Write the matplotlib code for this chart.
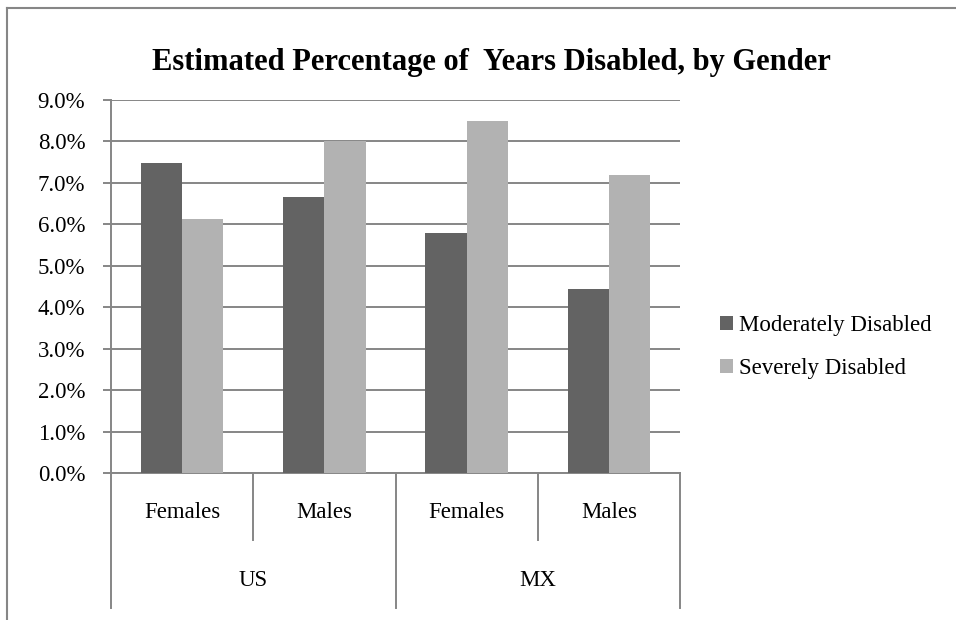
import numpy as np
import matplotlib.pyplot as plt
from matplotlib.lines import Line2D
from matplotlib.ticker import FuncFormatter
import matplotlib.transforms as mtransforms

plt.rcParams['font.family'] = ['Liberation Serif', 'DejaVu Serif']

# -----------------------------
# Data
# -----------------------------
countries = ['US', 'MX']
genders = ['Females', 'Males']
series_names = ['Moderately Disabled', 'Severely Disabled']
moderate = [7.48, 6.66, 5.79, 4.44]
severe = [6.13, 8.00, 8.50, 7.19]
yticks = [0, 1, 2, 3, 4, 5, 6, 7, 8, 9]

dark = '#636363'
light = '#b2b2b2'
axis_grey = '#868686'
fs = 16.5

# -----------------------------
# Figure
# -----------------------------
fig = plt.figure(figsize=(9.56, 6.2), dpi=100)
ax = fig.add_axes([111/956, 1 - 473/620, 569/956, 373/620])

n_cat = len(countries) * len(genders)
x = np.arange(n_cat)
w = 0.29
ax.bar(x - w/2, moderate, width=w, color=dark, label=series_names[0], zorder=3)
ax.bar(x + w/2, severe, width=w, color=light, label=series_names[1], zorder=3)

ax.set_xlim(-0.5, n_cat - 0.5)
ax.set_ylim(0, 9)
ax.set_yticks(yticks)
ax.yaxis.set_major_formatter(FuncFormatter(lambda v, p: f'{v:.1f}%'))
ax.tick_params(axis='y', length=6, width=1.4, color=axis_grey, pad=12.5,
               labelsize=fs)
ax.set_xticks([])
ax.grid(axis='y', color=axis_grey, linewidth=1.4, zorder=0)

for s in ['top', 'right']:
    ax.spines[s].set_visible(False)
for s in ['left', 'bottom']:
    ax.spines[s].set_color(axis_grey)
    ax.spines[s].set_linewidth(1.4)

# -----------------------------
# Two-level category axis
# -----------------------------
trans = mtransforms.blended_transform_factory(ax.transData, ax.transAxes)
h_ax = 373.0
short_end = -(540 - 473) / h_ax
long_end = -(608 - 473) / h_ax

for b in np.arange(-0.5, n_cat, 1.0):
    is_outer = int(round(b + 0.5)) % len(genders) == 0
    y_end = long_end if is_outer else short_end
    ax.add_line(Line2D([b, b], [0, y_end], transform=trans, color=axis_grey,
                       linewidth=1.4, clip_on=False))

for i in range(n_cat):
    ax.text(x[i], -(513 - 473) / h_ax, genders[i % len(genders)],
            transform=trans, ha='center', va='center', fontsize=fs)

for j, c in enumerate(countries):
    cx = j * len(genders) + (len(genders) - 1) / 2
    ax.text(cx, -(580 - 473) / h_ax, c, transform=trans,
            ha='center', va='center', fontsize=fs)

# -----------------------------
# Title, legend, chart border
# -----------------------------
fig.text(491/956, 1 - 70/620, 'Estimated Percentage of  Years Disabled, by Gender',
         ha='center', va='baseline', fontsize=22, fontweight='bold')

fig.legend(loc='center left', bbox_to_anchor=(720/956, 1 - 347/620),
           frameon=False, fontsize=fs, handlelength=0.55, handleheight=0.55,
           handletextpad=0.3, labelspacing=0.95, borderaxespad=0,
           borderpad=0)

fig.add_artist(Line2D([7/956, 1], [1 - 8/620, 1 - 8/620], color=axis_grey,
                      linewidth=1.5))
fig.add_artist(Line2D([7/956, 7/956], [0, 1 - 8/620], color=axis_grey,
                      linewidth=1.5))

fig.savefig('out.png', dpi=100)
